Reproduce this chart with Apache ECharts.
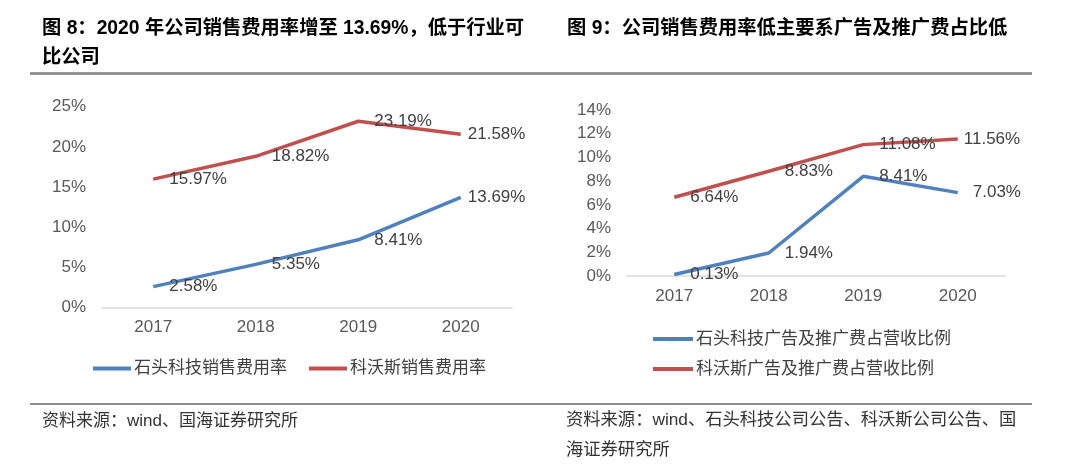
<!DOCTYPE html>
<html>
<head>
<meta charset="utf-8">
<script src="https://cdn.jsdelivr.net/npm/echarts@6/dist/echarts.min.js"></script>
<style>
html,body{margin:0;padding:0;background:#fff;}
#c{width:1080px;height:469px;}
</style>
</head>
<body>
<div id="c"></div>
<script>
// ---- data ----
const years = ['2017', '2018', '2019', '2020'];
const rockSalesRate = [2.58, 5.35, 8.41, 13.69];
const ecovacsSalesRate = [15.97, 18.82, 23.19, 21.58];
const rockAdRate = [0.13, 1.94, 8.41, 7.03];
const ecovacsAdRate = [6.64, 8.83, 11.08, 11.56];
const leftSeriesNames = ['石头科技销售费用率', '科沃斯销售费用率'];
const rightSeriesNames = ['石头科技广告及推广费占营收比例', '科沃斯广告及推广费占营收比例'];
const leftTitle1 = '图 8：2020 年公司销售费用率增至 13.69%，低于行业可';
const leftTitle2 = '比公司';
const rightTitle = '图 9：公司销售费用率低主要系广告及推广费占比低';
const leftSource = '资料来源：wind、国海证券研究所';
const rightSource1 = '资料来源：wind、石头科技公司公告、科沃斯公司公告、国';
const rightSource2 = '海证券研究所';

const BLUE = '#4F81BD', RED = '#C0504D';
const FONT = '"Liberation Sans", "Noto Sans CJK SC", sans-serif';

function mkData(vals, lastDist) {
  return vals.map((v, i) => {
    const o = { value: v };
    if (i === vals.length - 1) o.label = { distance: lastDist };
    return o;
  });
}

function lineSeries(name, vals, color, xi, lastDist) {
  return {
    type: 'line', name: name, xAxisIndex: xi, yAxisIndex: xi,
    data: mkData(vals, lastDist),
    symbol: 'circle', symbolSize: 0.01, showSymbol: true, smooth: false,
    lineStyle: { color: color, width: 3.5 },
    itemStyle: { color: color },
    label: {
      show: true, position: 'right', distance: 16,
      color: '#404040', fontSize: 17, fontFamily: FONT,
      formatter: p => p.value.toFixed(2) + '%'
    },
    emphasis: { disabled: true },
    animation: false
  };
}

const axisX = gi => ({
  type: 'category', gridIndex: gi, data: years, boundaryGap: true,
  axisLine: { lineStyle: { color: '#d9d9d9', width: 1.5 } },
  axisTick: { show: false },
  axisLabel: { color: '#595959', fontSize: 17, fontFamily: FONT, margin: 12 }
});
const axisY = (gi, max, interval) => ({
  type: 'value', gridIndex: gi, min: 0, max: max, interval: interval,
  axisLine: { show: false }, axisTick: { show: false },
  splitLine: { show: false },
  axisLabel: { color: '#595959', fontSize: 17, fontFamily: FONT, margin: 16, formatter: '{value}%' }
});

const chart = echarts.init(document.getElementById('c'));
chart.setOption({
  backgroundColor: '#fff',
  animation: false,
  grid: [
    { left: 102, top: 106.7, width: 410, height: 200.6 },
    { left: 627, top: 110, width: 378, height: 166 }
  ],
  xAxis: [axisX(0), axisX(1)],
  yAxis: [axisY(0, 25, 5), axisY(1, 14, 2)],
  legend: [
    {
      data: leftSeriesNames, left: 88, top: 355, orient: 'horizontal',
      itemWidth: 38, itemHeight: 4, itemGap: 22, icon: 'rect',
      textStyle: { color: '#404040', fontSize: 17, fontFamily: FONT, padding: [0, 0, 0, -2] },
      selectedMode: false
    },
    {
      data: rightSeriesNames, left: 648, top: 324, orient: 'vertical',
      itemWidth: 40, itemHeight: 4, itemGap: 10, icon: 'rect',
      textStyle: { color: '#404040', fontSize: 17, fontFamily: FONT, lineHeight: 20, padding: [0, 0, 0, -2] },
      selectedMode: false
    }
  ],
  series: [
    lineSeries(leftSeriesNames[0], rockSalesRate, BLUE, 0, 7),
    lineSeries(leftSeriesNames[1], ecovacsSalesRate, RED, 0, 7),
    lineSeries(rightSeriesNames[0], rockAdRate, BLUE, 1, 15),
    lineSeries(rightSeriesNames[1], ecovacsAdRate, RED, 1, 6)
  ],
  graphic: [
    { type: 'text', x: 42, y: 29, style: { text: leftTitle1, font: 'bold 19.3px ' + FONT, fill: '#000', verticalAlign: 'middle' } },
    { type: 'text', x: 42, y: 58, style: { text: leftTitle2, font: 'bold 19.3px ' + FONT, fill: '#000', verticalAlign: 'middle' } },
    { type: 'text', x: 567, y: 29, style: { text: rightTitle, font: 'bold 19.3px ' + FONT, fill: '#000', verticalAlign: 'middle' } },
    { type: 'line', shape: { x1: 30, y1: 73.5, x2: 1032, y2: 73.5 }, style: { stroke: '#808080', lineWidth: 2.5 } },
    { type: 'line', shape: { x1: 30, y1: 404, x2: 1032, y2: 404 }, style: { stroke: '#1a1a1a', lineWidth: 1.2 } },
    { type: 'text', x: 42, y: 421, style: { text: leftSource, font: '17px ' + FONT, fill: '#333', verticalAlign: 'middle' } },
    { type: 'text', x: 566, y: 420, style: { text: rightSource1, font: '17.3px ' + FONT, fill: '#333', verticalAlign: 'middle' } },
    { type: 'text', x: 566, y: 450, style: { text: rightSource2, font: '17.3px ' + FONT, fill: '#333', verticalAlign: 'middle' } }
  ]
});
</script>
</body>
</html>
